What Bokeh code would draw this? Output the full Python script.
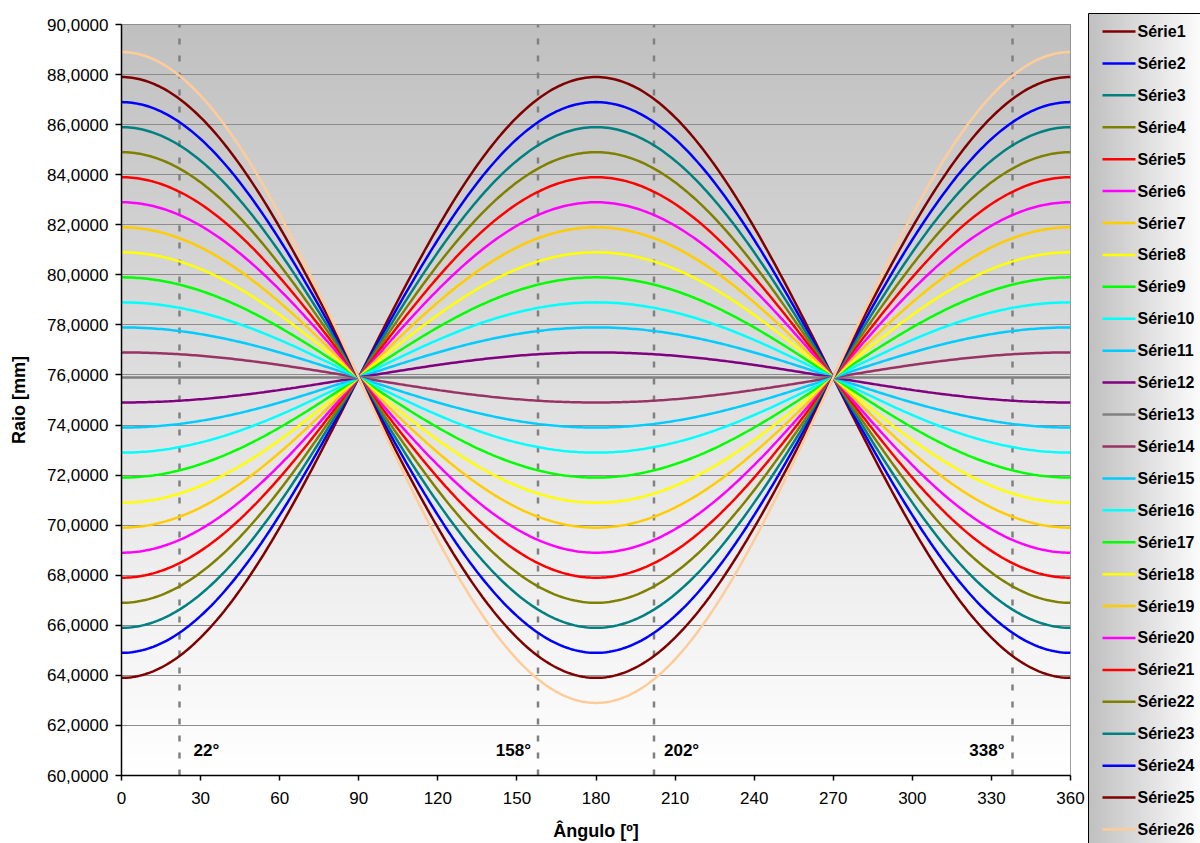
import numpy as np
from bokeh.plotting import figure
from bokeh.models import Range1d, FixedTicker, CustomJSTickFormatter, ColumnDataSource
from bokeh.layouts import row
from bokeh.embed import file_html
from bokeh.resources import INLINE
from bokeh.core.properties import value

# ---------------- data ----------------
series_names = ["Série1", "Série2", "Série3", "Série4", "Série5", "Série6", "Série7",
                "Série8", "Série9", "Série10", "Série11", "Série12", "Série13", "Série14",
                "Série15", "Série16", "Série17", "Série18", "Série19", "Série20", "Série21",
                "Série22", "Série23", "Série24", "Série25", "Série26"]
# radius read at 0° (and mirrored at 180°) for each series
radius_at_0deg = [63.9, 64.9, 65.9, 66.9, 67.9, 68.9, 69.9, 70.9, 71.9, 72.9, 73.9, 74.9,
                  75.9, 76.9, 77.9, 78.9, 79.9, 80.9, 81.9, 82.9, 83.9, 84.9, 85.9, 86.9,
                  87.9, 88.9]
base_radius = 75.9
series_colors = ["#800000", "#0000FF", "#008080", "#808000", "#FF0000", "#FF00FF", "#FFCC00",
                 "#FFFF00", "#00FF00", "#00FFFF", "#00CCFF", "#800080", "#808080", "#993366",
                 "#00CCFF", "#00FFFF", "#00FF00", "#FFFF00", "#FFCC00", "#FF00FF", "#FF0000",
                 "#808000", "#008080", "#0000FF", "#800000", "#FFCC99"]
angle_deg = np.arange(0, 361, 1)
x_ticks = [0, 30, 60, 90, 120, 150, 180, 210, 240, 270, 300, 330, 360]
y_ticks = [60, 62, 64, 66, 68, 70, 72, 74, 76, 78, 80, 82, 84, 86, 88, 90]
marker_angles = [22, 158, 202, 338]
marker_labels = ["22°", "158°", "202°", "338°"]
marker_label_y = 61.0

FONT = "Liberation Sans"
W, H = 1200, 843
LW = 114

# ---------------- main chart ----------------
p = figure(width=W - LW, height=H, x_range=Range1d(0, 360), y_range=Range1d(60, 90),
           output_backend="svg", toolbar_location=None,
           min_border_left=121, min_border_right=16, min_border_top=24, min_border_bottom=67)
p.background_fill_color = "white"
p.border_fill_color = "white"
p.outline_line_color = "#808080"
p.frame_align = False

# vertical gradient (white bottom -> gray top)
N = 256
t = np.linspace(0.0, 1.0, N)
g = np.round(255 - t * (255 - 192)).astype(np.uint8)
img = np.empty((N, 1), dtype=np.uint32)
view = img.view(dtype=np.uint8).reshape((N, 1, 4))
view[:, 0, 0] = g
view[:, 0, 1] = g
view[:, 0, 2] = g
view[:, 0, 3] = 255
bg = p.image_rgba(image=[img], x=0, y=60, dw=360, dh=30)
bg.level = "image"

p.xgrid.visible = False
p.ygrid.ticker = FixedTicker(ticks=y_ticks)
p.ygrid.grid_line_color = "#8c8c8c"
p.ygrid.grid_line_width = 1

# dashed marker lines
msrc = ColumnDataSource(dict(x=marker_angles, y0=[60] * 4, y1=[90] * 4))
p.segment(x0="x", y0="y0", x1="x", y1="y1", source=msrc, line_color="#808080",
          line_width=2.5, line_dash="6 11")

# series
for name, r0, col in zip(series_names, radius_at_0deg, series_colors):
    r = base_radius + (r0 - base_radius) * np.cos(np.radians(angle_deg))
    p.line(angle_deg, r, line_color=col, line_width=2.5)

# marker labels
left_src = ColumnDataSource(dict(x=[marker_angles[0], marker_angles[2]],
                                 y=[marker_label_y] * 2,
                                 t=[marker_labels[0], marker_labels[2]],
                                 dx=[14, 10]))
right_src = ColumnDataSource(dict(x=[marker_angles[1], marker_angles[3]],
                                  y=[marker_label_y] * 2,
                                  t=[marker_labels[1], marker_labels[3]],
                                  dx=[-7, -8]))
p.text(x="x", y="y", text="t", x_offset="dx", source=left_src, text_align="left",
       text_baseline="middle", text_font=value(FONT), text_font_style="bold",
       text_font_size="17px", text_color="black")
p.text(x="x", y="y", text="t", x_offset="dx", source=right_src, text_align="right",
       text_baseline="middle", text_font=value(FONT), text_font_style="bold",
       text_font_size="17px", text_color="black")

# axes
p.xaxis.ticker = FixedTicker(ticks=x_ticks)
p.yaxis.ticker = FixedTicker(ticks=y_ticks)
p.yaxis.formatter = CustomJSTickFormatter(code="return tick.toFixed(4).replace('.', ',');")
for ax in (p.xaxis[0], p.yaxis[0]):
    ax.major_label_text_font = FONT
    ax.major_label_text_font_size = "17px"
    ax.major_label_text_color = "black"
    ax.minor_tick_line_color = None
    ax.major_tick_in = 0
    ax.axis_line_color = "black"
    ax.axis_line_width = 1.5
    ax.major_tick_line_color = "black"
    ax.major_tick_line_width = 1.5
    ax.axis_label_text_font = FONT
    ax.axis_label_text_font_style = "bold"
    ax.axis_label_text_font_size = "18px"
    ax.axis_label_text_color = "black"
p.xaxis.major_tick_out = 5
p.yaxis.major_tick_out = 6
p.xaxis.major_label_standoff = 11
p.yaxis.major_label_standoff = 7
p.xaxis.axis_label = "Ângulo [º]"
p.yaxis.axis_label = "Raio [mm]"
p.xaxis.axis_label_standoff = 14
p.yaxis.axis_label_standoff = 15

# ---------------- legend (drawn in a side panel) ----------------
lg = figure(width=LW, height=H, x_range=Range1d(0, LW), y_range=Range1d(0, H),
            output_backend="svg", toolbar_location=None,
            min_border_left=0, min_border_right=0, min_border_top=0, min_border_bottom=0,
            x_axis_location=None, y_axis_location=None)
lg.outline_line_color = None
lg.background_fill_color = "white"
lg.border_fill_color = "white"
lg.grid.visible = False
lg.frame_align = False

M = 112
u = np.linspace(0.0, 1.0, M)
g2 = np.round(192 + u * (253 - 192)).astype(np.uint8)
img2 = np.empty((1, M), dtype=np.uint32)
v2 = img2.view(dtype=np.uint8).reshape((1, M, 4))
v2[0, :, 0] = g2
v2[0, :, 1] = g2
v2[0, :, 2] = g2
v2[0, :, 3] = 255
box_top = H - 13
lg.image_rgba(image=[img2], x=2, y=-20, dw=M + 2, dh=box_top + 20)
lg.quad(left=2, right=LW + 30, bottom=-30, top=box_top, fill_alpha=0,
        line_color="black", line_width=1)

item_y = [H - (31 + 31.92 * i) for i in range(len(series_names))]
lsrc = ColumnDataSource(dict(y=item_y, name=series_names, color=series_colors,
                             x0=[16] * len(series_names), x1=[49] * len(series_names),
                             xt=[51] * len(series_names)))
lg.segment(x0="x0", y0="y", x1="x1", y1="y", line_color="color", line_width=2.5, source=lsrc)
lg.text(x="xt", y="y", text="name", source=lsrc, text_align="left", text_baseline="middle",
        text_font=value(FONT), text_font_style="bold", text_font_size="16px",
        text_color="black")

layout = row(p, lg, spacing=0)
open("out.html", "w").write(file_html(layout, INLINE))
